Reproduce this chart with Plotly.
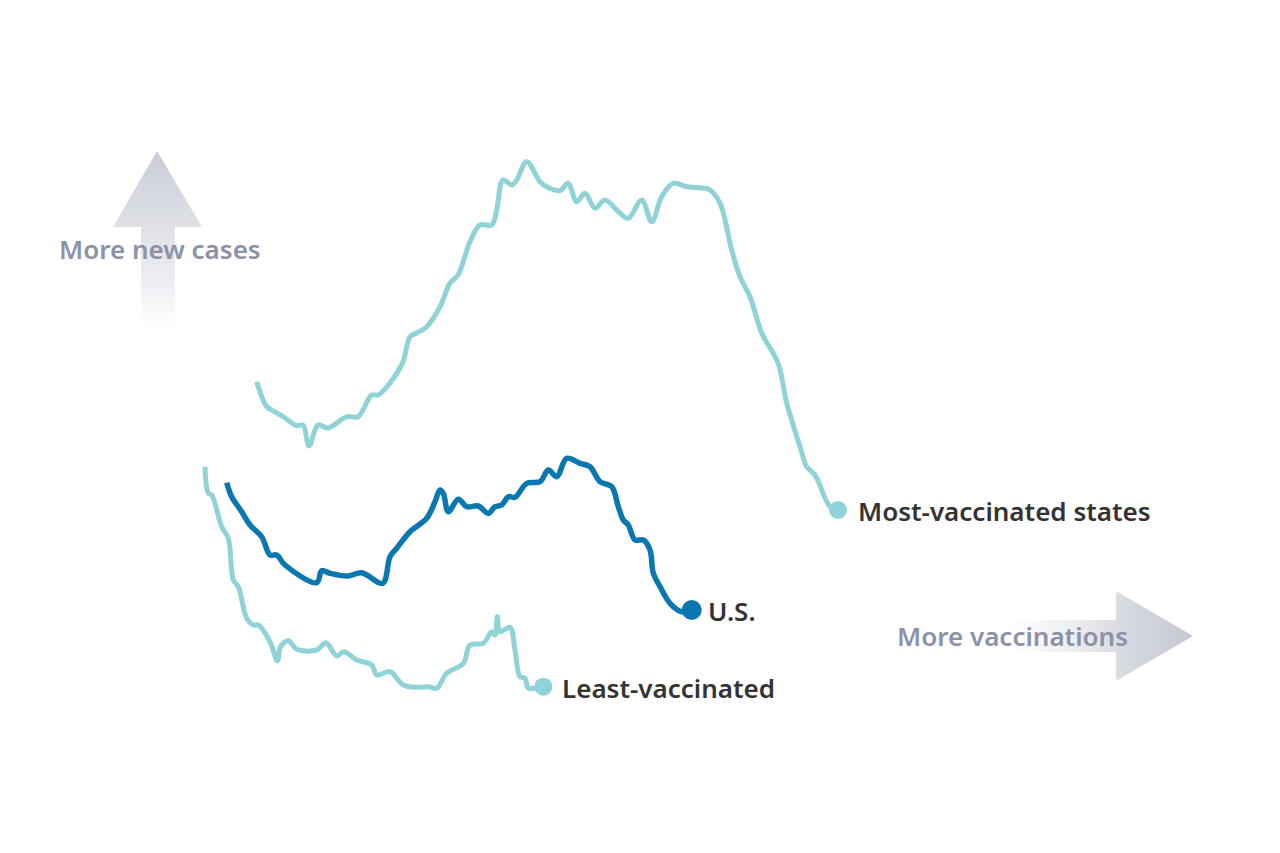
import plotly.graph_objects as go

# x = vaccination position, y = new cases position
most_x = [256.7, 266.7, 271.7, 283, 296.7, 303, 309, 318, 328, 346.7, 358, 371.7, 378, 390, 403,
          410, 416.7, 426.7, 440, 450, 458, 470, 480, 491.7, 496.7, 503, 511.7, 516.7, 526.7,
          540, 546.7, 560, 568, 576.7, 585, 595, 605, 616.7, 628, 641.7, 651.7, 661.7, 673,
          686.7, 703, 710, 720, 725, 731.7, 740, 750, 761.7, 778, 786.7, 800, 806.7, 815, 830, 838]
most_y = [471.3, 446.3, 443, 436.3, 427.3, 428, 407, 428, 425, 436.3, 436.3, 458, 458, 470, 491.3,
          516.3, 520, 526.3, 546.3, 570, 578, 611.3, 628, 628, 643, 673, 668, 673, 691.3,
          671.3, 666.3, 662.3, 669.7, 651.3, 659.7, 644.7, 653, 643, 634.7, 653, 631.3, 656.3, 669.7,
          666.3, 665, 663, 650, 633, 603, 576.3, 556.3, 520, 490, 450, 406.3, 386.3, 378, 346.3, 343]

us_x = [226.7, 231.7, 241.7, 250, 261.7, 270, 276.7, 285, 316.7, 321.7, 330, 348.3, 361.7, 382.7,
        390, 396.7, 410, 426.7, 435, 440, 443.3, 448.3, 458.3, 466.7, 478.3, 488.3, 495, 501.7,
        508.3, 515, 526.7, 540, 548.3, 556.7, 566.7, 580, 590, 600, 611.7, 618.3, 623.3, 628.3,
        635, 643.3, 650, 653.3, 660, 670, 681.7, 691.7]
us_y = [370.3, 356.3, 341.3, 328, 316.3, 298, 298, 288, 270.3, 282.3, 279.7, 277, 280.3, 269.7,
        296.3, 304.7, 321.3, 334.7, 351.3, 363, 359.7, 341.3, 353.7, 346.3, 347, 339.7, 346.3, 348,
        356.3, 355.7, 369.7, 371.3, 383, 376.3, 394.7, 389.7, 386.3, 371.3, 366.3, 346.3, 333, 328,
        313, 313, 303, 279.7, 266.3, 249.7, 241.3, 243]

least_x = [205, 208.3, 211.7, 221.7, 228.3, 233.3, 238.3, 246.7, 253.3, 258.3, 270, 277.3, 280.7,
           288.3, 296.7, 316.7, 326, 336.7, 344, 356.7, 371.7, 376.7, 390, 403.3, 418.3, 428.3,
           436.7, 446.7, 463.3, 470, 483.3, 491.7, 495, 497.3, 500, 510, 515, 520, 525, 528.3,
           533.3, 543.3]
least_y = [386.3, 359.7, 358, 326.3, 314.7, 273, 266.3, 234.7, 228, 228, 211.3, 192.3, 206.3,
           212.3, 203.7, 203, 210.3, 197, 201.3, 193, 188, 178, 181.3, 168, 165.7, 166.3,
           164.7, 179.7, 189.7, 208, 209.7, 221.3, 218, 236.3, 221.3, 225.7, 203, 176.3, 174.7, 164.7,
           164.7, 166.3]

TEAL = "#8fd3d8"
BLUE = "#0a77b0"
TEXT = "#333333"
ARROW_TEXT = "#8c92a7"
FONT = "Noto Sans"

fig = go.Figure()

# up arrow (more new cases), fades to white at the bottom
fig.add_trace(go.Scatter(
    x=[141, 141, 113, 157, 202, 175, 175, 141],
    y=[528, 626, 626, 702, 626, 626, 528, 528],
    mode="lines", fill="toself", line=dict(width=0),
    fillgradient=dict(type="vertical",
                      colorscale=[[0, "rgba(255,255,255,1)"], [0.25, "#eceef2"],
                                  [0.7, "#d9dbe2"], [1, "#c9ccd6"]]),
    hoverinfo="skip", showlegend=False))

# right arrow (more vaccinations), fades to white on the left
fig.add_trace(go.Scatter(
    x=[1010, 1116, 1116, 1193, 1116, 1116, 1010, 1010],
    y=[233, 233, 262, 217, 172, 201, 201, 233],
    mode="lines", fill="toself", line=dict(width=0),
    fillgradient=dict(type="horizontal",
                      colorscale=[[0, "rgba(255,255,255,1)"], [0.35, "#eceef2"],
                                  [0.6, "#d9dbe2"], [1, "#c5c8d3"]]),
    hoverinfo="skip", showlegend=False))

line_shape = dict(shape="spline", smoothing=1.0)

fig.add_trace(go.Scatter(x=most_x, y=most_y, mode="lines",
                         line=dict(color=TEAL, width=5, **line_shape),
                         hoverinfo="skip", showlegend=False))
fig.add_trace(go.Scatter(x=least_x, y=least_y, mode="lines",
                         line=dict(color=TEAL, width=5, **line_shape),
                         hoverinfo="skip", showlegend=False))
fig.add_trace(go.Scatter(x=us_x, y=us_y, mode="lines",
                         line=dict(color=BLUE, width=5.5, **line_shape),
                         hoverinfo="skip", showlegend=False))

# end points with labels
ends = [
    (most_x[-1], most_y[-1], TEAL, 18, 18, "Most-vaccinated states"),
    (us_x[-1], us_y[-1], BLUE, 20, 14, "U.S."),
    (least_x[-1], least_y[-1], TEAL, 18, 17, "Least-vaccinated"),
]
for x, y, color, size, shift, label in ends:
    fig.add_trace(go.Scatter(x=[x], y=[y], mode="markers",
                             marker=dict(color=color, size=size),
                             hoverinfo="skip", showlegend=False))
    fig.add_annotation(x=x, y=y, text=label, showarrow=False, xanchor="left",
                       xshift=shift, yshift=-1,
                       font=dict(family=FONT, size=26, color=TEXT, weight=600))

fig.add_annotation(x=160, y=604, text="More new cases", showarrow=False,
                   font=dict(family=FONT, size=26, color=ARROW_TEXT, weight=600))
fig.add_annotation(x=1012, y=217, text="More vaccinations", showarrow=False,
                   font=dict(family=FONT, size=26, color=ARROW_TEXT, weight=600))

# the page body adds an 8px margin, so the ranges are shifted to compensate
fig.update_xaxes(range=[8, 1288], visible=False, fixedrange=True)
fig.update_yaxes(range=[-8, 845], visible=False, fixedrange=True)
fig.update_layout(width=1280, height=853, margin=dict(l=0, r=0, t=0, b=0),
                  plot_bgcolor="white", paper_bgcolor="white")

fig.write_html("out.html")
